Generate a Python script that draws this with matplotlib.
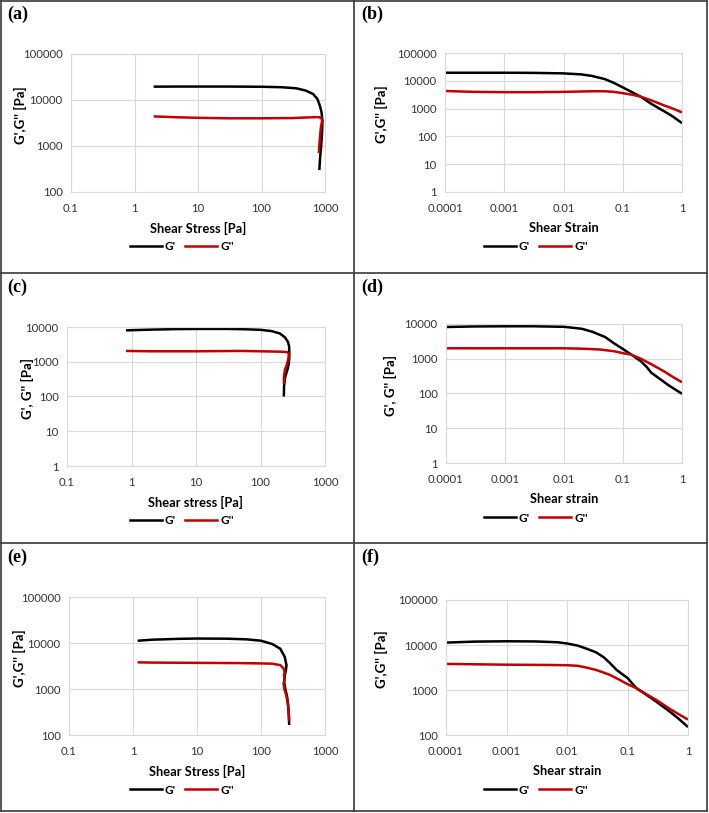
import matplotlib
matplotlib.use('Agg')
import matplotlib.pyplot as plt
from matplotlib.lines import Line2D

# ---- data (G' black, G'' red) ----
a_gp_x = [2, 5, 10, 30, 100, 200, 350, 500, 650, 760, 830, 880, 910, 900, 870, 840, 815]
a_gp_y = [19500, 19600, 19600, 19600, 19400, 19000, 18000, 16000, 13500, 10500, 7500, 5500, 3500, 2000, 1000, 600, 300]
a_gpp_x = [2, 5, 10, 30, 100, 300, 600, 800, 880, 900, 860, 820, 800]
a_gpp_y = [4400, 4200, 4100, 4000, 4000, 4050, 4200, 4250, 4000, 3500, 2500, 1200, 700]

b_gp_x = [1e-4, 3e-4, 1e-3, 3e-3, 0.01, 0.02, 0.03, 0.05, 0.07, 0.1, 0.15, 0.2, 0.3, 0.5, 0.7, 1]
b_gp_y = [19500, 19500, 19500, 19300, 18500, 17000, 15000, 11500, 8500, 5800, 3700, 2700, 1500, 800, 520, 300]
b_gpp_x = [1e-4, 3e-4, 1e-3, 3e-3, 0.01, 0.03, 0.05, 0.07, 0.1, 0.15, 0.2, 0.3, 0.5, 0.7, 1]
b_gpp_y = [4300, 4000, 3900, 3900, 4000, 4200, 4200, 4000, 3600, 3100, 2700, 2000, 1300, 1000, 730]

c_gp_x = [0.82, 2, 5, 10, 30, 60, 100, 150, 200, 240, 265, 278, 280, 275, 262, 240, 232, 230]
c_gp_y = [8000, 8400, 8700, 8800, 8800, 8600, 8300, 7600, 6500, 5000, 3800, 2800, 1500, 900, 600, 350, 200, 100]
c_gpp_x = [0.82, 2, 10, 50, 100, 200, 260, 275, 270, 255, 240, 232, 230]
c_gpp_y = [2050, 2000, 2000, 2050, 2000, 1950, 1900, 1700, 1200, 800, 600, 400, 230]

d_gp_x = [1e-4, 3e-4, 1e-3, 3e-3, 0.01, 0.02, 0.03, 0.05, 0.07, 0.1, 0.14, 0.2, 0.25, 0.3, 0.4, 0.6, 1]
d_gp_y = [8200, 8500, 8600, 8600, 8300, 7300, 6000, 4200, 2800, 1900, 1300, 850, 590, 400, 280, 170, 98]
d_gpp_x = [1e-4, 1e-3, 0.01, 0.02, 0.04, 0.07, 0.1, 0.14, 0.2, 0.3, 0.5, 0.7, 1]
d_gpp_y = [2000, 2000, 2000, 1950, 1850, 1650, 1450, 1300, 1000, 700, 430, 300, 210]

e_gp_x = [1.18, 2, 5, 10, 30, 60, 100, 150, 200, 235, 250, 245, 235, 230, 240, 255, 265, 272, 276]
e_gp_y = [11200, 11800, 12300, 12500, 12400, 12000, 11200, 9500, 7500, 5000, 3300, 2500, 2000, 1400, 1000, 700, 450, 250, 165]
e_gpp_x = [1.18, 2, 10, 50, 100, 150, 200, 225, 235, 228, 235, 225, 232, 250, 265, 273, 276]
e_gpp_y = [3800, 3750, 3700, 3650, 3600, 3550, 3300, 2800, 2300, 2000, 1700, 1300, 1000, 700, 450, 300, 200]

f_gp_x = [1e-4, 3e-4, 1e-3, 3e-3, 0.007, 0.01, 0.015, 0.02, 0.03, 0.04, 0.05, 0.066, 0.08, 0.1, 0.14, 0.2, 0.3, 0.5, 0.7, 1]
f_gp_y = [11300, 11900, 12100, 12000, 11500, 10800, 9700, 8500, 6900, 5400, 4100, 2800, 2300, 1850, 1100, 800, 550, 330, 230, 150]
f_gpp_x = [1e-4, 1e-3, 0.005, 0.01, 0.015, 0.02, 0.03, 0.05, 0.07, 0.1, 0.14, 0.2, 0.3, 0.5, 0.7, 1]
f_gpp_y = [3800, 3650, 3600, 3550, 3450, 3200, 2800, 2200, 1750, 1350, 1100, 820, 600, 380, 290, 220]

stress_ticks = [0.1, 1, 10, 100, 1000]
stress_labels = ['0.1', '1', '10', '100', '1000']
strain_ticks = [1e-4, 1e-3, 1e-2, 1e-1, 1]
strain_labels = ['0.0001', '0.001', '0.01', '0.1', '1']
y_ticks = [1, 10, 100, 1000, 10000, 100000]
y_labels = ['1', '10', '100', '1000', '10000', '100000']

W, H = 709, 813
BLACK = '#000000'
RED = '#C00000'
GRID = '#D9D9D9'
plt.rcParams['font.family'] = ['Lato', 'DejaVu Sans']

fig = plt.figure(figsize=(W / 100, H / 100), dpi=100)


def fx(x):
    return x / W


def fy(y):
    return 1 - y / H


# panel: (tag, box, x kind, ylims, series, xlabel, ylabel, panel origin, ylabel x)
panels = [
    ('(a)', (71, 54, 325, 192), 'stress', (100, 100000), a_gp_x, a_gp_y, a_gpp_x, a_gpp_y,
     'Shear Stress [Pa]', "G',G'' [Pa]", (0, 0), 20),
    ('(b)', (445, 53, 682, 192), 'strain', (1, 100000), b_gp_x, b_gp_y, b_gpp_x, b_gpp_y,
     'Shear Strain', "G',G'' [Pa]", (354, 0), 381),
    ('(c)', (67, 327, 325, 466), 'stress', (1, 10000), c_gp_x, c_gp_y, c_gpp_x, c_gpp_y,
     'Shear stress [Pa]', "G', G'' [Pa]", (0, 273), 27),
    ('(d)', (446, 324, 682, 463), 'strain', (1, 10000), d_gp_x, d_gp_y, d_gpp_x, d_gpp_y,
     'Shear strain', "G', G'' [Pa]", (354, 273), 390),
    ('(e)', (69, 597, 325, 735), 'stress', (100, 100000), e_gp_x, e_gp_y, e_gpp_x, e_gpp_y,
     'Shear Stress [Pa]', "G',G'' [Pa]", (0, 543), 19),
    ('(f)', (446, 600, 688, 735), 'strain', (100, 100000), f_gp_x, f_gp_y, f_gpp_x, f_gpp_y,
     'Shear strain', "G',G'' [Pa]", (354, 543), 381),
]

for tag, box, kind, ylim, gx, gy, hx, hy, xlab, ylab, org, ylx in panels:
    l, t, r, b = box
    ax = fig.add_axes([fx(l), fy(b), fx(r - l), (b - t) / H])
    ax.plot(gx, gy, color=BLACK, lw=1.8, solid_capstyle='butt')
    ax.plot(hx, hy, color=RED, lw=1.8, solid_capstyle='butt')
    ax.set_xscale('log')
    ax.set_yscale('log')
    if kind == 'stress':
        ax.set_xlim(0.1, 1000)
        ax.set_xticks(stress_ticks, stress_labels)
    else:
        ax.set_xlim(1e-4, 1)
        ax.set_xticks(strain_ticks, strain_labels)
    ax.set_ylim(*ylim)
    yt = [v for v in y_ticks if ylim[0] <= v <= ylim[1]]
    ax.set_yticks(yt, [y_labels[y_ticks.index(v)] for v in yt])
    ax.minorticks_off()
    ax.grid(True, color=GRID, lw=0.8)
    ax.set_axisbelow(True)
    for s in ax.spines.values():
        s.set_color(GRID)
        s.set_linewidth(0.8)
    ax.tick_params(length=0, labelsize=8.2, colors='#333333')
    ax.tick_params(axis='x', pad=8)
    ax.tick_params(axis='y', pad=6)

    ox, oy = org
    # panel tag
    fig.text(fx(ox + 7), fy(oy + 6), tag, family='Liberation Serif', fontweight='bold',
             fontsize=13, ha='left', va='top')
    # axis titles
    fig.text(fx((l + r) / 2), fy(b + 36), xlab, fontweight='bold', fontsize=9.3,
             ha='center', va='center')
    fig.text(fx(ylx), fy((t + b) / 2 - 8), ylab, fontweight='bold', fontsize=9.5,
             rotation=90, ha='center', va='center')
    # legend under the x title
    handles = [Line2D([], [], color=BLACK, lw=1.8), Line2D([], [], color=RED, lw=1.8)]
    fig.legend(handles, ["G'", "G''"], loc='center',
               bbox_to_anchor=(fx(ox + 182), fy(b + 55)), ncol=2, frameon=False,
               prop={'weight': 'bold', 'size': 8.5}, handlelength=2.7,
               handletextpad=0.25, columnspacing=0.8, borderaxespad=0)

# panel frame lines
frame = '#3a3a3a'
for seg in [((1, 1), (707, 1)), ((1, 811), (707, 811)), ((1, 1), (1, 811)),
            ((707, 1), (707, 811)), ((354, 1), (354, 811)),
            ((1, 273), (707, 273)), ((1, 543), (707, 543))]:
    (x0, y0), (x1, y1) = seg
    fig.add_artist(Line2D([fx(x0), fx(x1)], [fy(y0), fy(y1)], color=frame, lw=1.2))

fig.savefig('out.png', dpi=100)
